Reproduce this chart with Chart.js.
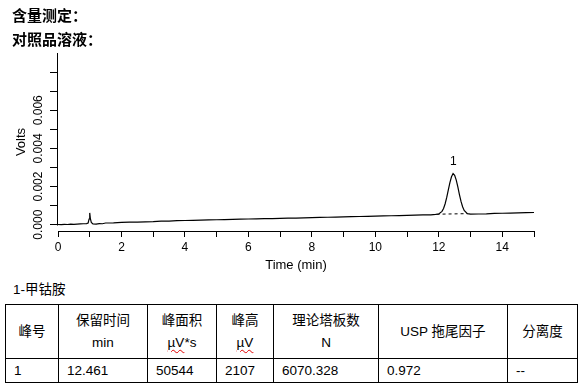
<!DOCTYPE html>
<html>
<head>
<meta charset="utf-8">
<script src="https://cdn.jsdelivr.net/npm/chart.js@4"></script>
<style>
  html, body { margin:0; padding:0; background:#fff; }
  body { width:585px; height:387px; position:relative; overflow:hidden; font-family:"Liberation Sans","Noto Sans CJK SC",sans-serif; color:#000; }
  .ttl { position:absolute; left:12px; font-weight:bold; font-size:15px; line-height:18px; font-family:"Noto Sans CJK SC","Liberation Sans",sans-serif; z-index:2; }
  #wrap { position:absolute; left:0; top:0; width:585px; height:280px; }
  #cap { position:absolute; left:13px; top:281px; font-size:13.5px; line-height:18px; }
  table { position:absolute; left:5px; top:304px; border-collapse:collapse; table-layout:fixed; width:573px; font-size:13.5px; }
  td { border:1px solid #000; padding:0; overflow:hidden; white-space:nowrap; }
  tr.h td { height:53px; text-align:center; vertical-align:middle; line-height:22px; }
  tr.d td { height:23px; text-align:left; padding-left:8px; vertical-align:middle; }
  .sp { text-decoration: underline wavy #e00000; text-decoration-thickness:1px; text-underline-offset:2px; }
</style>
</head>
<body>
<div class="ttl" style="top:6px">含量测定：</div>
<div class="ttl" style="top:30px">对照品溶液：</div>
<div id="wrap"><canvas id="c"></canvas></div>
<div id="cap"></div>
<table id="tbl"></table>
<script>
// ---- data ----
const times = [0.00,0.10,0.20,0.30,0.40,0.50,0.60,0.70,0.80,0.90,0.95,0.98,1.00,1.02,1.05,1.10,1.20,1.30,1.40,1.50,1.75,2.00,2.25,2.50,2.75,3.00,3.25,3.50,3.75,4.00,4.25,4.50,4.75,5.00,5.25,5.50,5.75,6.00,6.25,6.50,6.75,7.00,7.25,7.50,7.75,8.00,8.25,8.50,8.75,9.00,9.25,9.50,9.75,10.00,10.25,10.50,10.75,11.00,11.25,11.50,11.75,11.90,12.00,12.10,12.15,12.20,12.25,12.30,12.35,12.40,12.45,12.50,12.55,12.60,12.65,12.70,12.75,12.80,12.90,13.00,13.25,13.50,13.75,14.00,14.25,14.50,14.75,15.00];
const volts = [0.00001,0.00000,0.00002,0.00001,0.00003,0.00002,0.00003,0.00004,0.00005,0.00006,0.00009,0.00030,0.00062,0.00032,0.00012,0.00004,0.00003,0.00006,0.00005,0.00009,0.00010,0.00012,0.00014,0.00014,0.00015,0.00016,0.00019,0.00019,0.00021,0.00022,0.00023,0.00024,0.00025,0.00026,0.00027,0.00028,0.00029,0.00030,0.00031,0.00032,0.00032,0.00033,0.00034,0.00035,0.00036,0.00037,0.00038,0.00039,0.00040,0.00041,0.00042,0.00043,0.00044,0.00045,0.00046,0.00047,0.00048,0.00049,0.00050,0.00051,0.00052,0.00054,0.00056,0.00070,0.00085,0.00110,0.00143,0.00182,0.00221,0.00251,0.00268,0.00259,0.00234,0.00198,0.00158,0.00122,0.00094,0.00075,0.00058,0.00055,0.00056,0.00057,0.00059,0.00060,0.00061,0.00062,0.00063,0.00064];
const baseTimes = [11.93, 12.90];
const baseVolts = [0.00055, 0.00058];
const peakTimes = [12.461];
const peakVolts = [0.00268];
const peakLabels = ['1'];
const xTickValues = [0,1,2,3,4,5,6,7,8,9,10,11,12,13,14,15];
const xTickLabels = ['0','','2','','4','','6','','8','','10','','12','','14',''];
const yTickValues = [0,0.001,0.002,0.003,0.004,0.005,0.006,0.007,0.008];
const yTickLabels = ['0.000','','0.002','','0.004','','0.006','',''];
const yAxisTop = 0.009;
const caption = '1-甲钴胺';
const headTop = ['峰号','保留时间','峰面积','峰高','理论塔板数','USP 拖尾因子','分离度'];
const headUnit = ['','min','µV*s','µV','N','',''];
const rowVals = ['1','12.461','50544','2107','6070.328','0.972','--'];
const colWidths = [53,89,69,57,105,129,70];

// ---- table ----
document.getElementById('cap').textContent = caption;
const tbl = document.getElementById('tbl');
let html = '<colgroup>' + colWidths.map(w => '<col style="width:' + w + 'px">').join('') + '</colgroup>';
html += '<tr class="h">' + headTop.map((h, i) => {
  const u = headUnit[i] ? '<br>' + headUnit[i].replace('µV', '<span class="sp">µV</span>') : '';
  return '<td>' + h + u + '</td>';
}).join('') + '</tr>';
html += '<tr class="d">' + rowVals.map(v => '<td>' + v + '</td>').join('') + '</tr>';
tbl.innerHTML = html;

// ---- chart ----
const overlay = {
  id: 'overlay',
  afterDraw(chart) {
    const {ctx, scales: {x, y}, chartArea} = chart;
    ctx.save();
    ctx.strokeStyle = '#000';
    ctx.lineWidth = 1;
    const px = Math.round(chartArea.left) - 0.5;
    ctx.beginPath();
    ctx.moveTo(px, Math.round(y.getPixelForValue(yAxisTop)));
    ctx.lineTo(px, Math.round(y.getPixelForValue(0)) + 0.5);
    ctx.stroke();
    ctx.fillStyle = '#000';
    ctx.font = '12px "Liberation Sans", Arial, sans-serif';
    ctx.textAlign = 'center';
    ctx.textBaseline = 'middle';
    peakTimes.forEach((t, i) => {
      ctx.fillText(peakLabels[i], x.getPixelForValue(t), y.getPixelForValue(peakVolts[i]) - 12);
    });
    ctx.restore();
  }
};

new Chart(document.getElementById('c'), {
  type: 'line',
  data: {
    datasets: [
      { data: times.map((t, i) => ({x: t, y: volts[i]})), borderColor: '#000', borderWidth: 1.2, pointRadius: 0, tension: 0, fill: false },
      { data: baseTimes.map((t, i) => ({x: t, y: baseVolts[i]})), borderColor: '#000', borderWidth: 1, borderDash: [3, 3], pointRadius: 0, fill: false }
    ]
  },
  options: {
    responsive: true,
    maintainAspectRatio: false,
    animation: false,
    events: [],
    layout: { padding: { left: 0, right: 51, top: 53, bottom: 0 } },
    plugins: { legend: { display: false }, tooltip: { enabled: false } },
    scales: {
      x: {
        type: 'linear', min: 0, max: 15,
        afterBuildTicks: s => { s.ticks = xTickValues.map(v => ({value: v})); },
        afterFit: s => { s.height = 49; },
        ticks: { callback: (v, i) => xTickLabels[i], autoSkip: false, maxRotation: 0, padding: 3, color: '#000', font: { family: '"Liberation Sans", Arial', size: 12 } },
        grid: { drawOnChartArea: false, drawTicks: true, tickLength: 6, color: '#000' },
        border: { display: true, color: '#000', width: 1 },
        title: { display: true, text: 'Time (min)', color: '#000', font: { family: '"Liberation Sans", Arial', size: 13 }, padding: { top: 0, bottom: 7 } }
      },
      y: {
        type: 'linear', min: -0.00033, max: yAxisTop,
        afterBuildTicks: s => { s.ticks = yTickValues.map(v => ({value: v})); },
        afterFit: s => { s.width = 58; },
        ticks: { callback: (v, i) => yTickLabels[i], autoSkip: false, minRotation: 90, maxRotation: 90, crossAlign: 'center', padding: -4, color: '#000', font: { family: '"Liberation Sans Narrow", "Liberation Sans", Arial', size: 12 } },
        grid: { drawOnChartArea: false, drawTicks: true, tickLength: 8, color: '#000' },
        border: { display: false },
        title: { display: true, text: 'Volts', color: '#000', font: { family: '"Liberation Sans", Arial', size: 13 }, padding: { top: 14, bottom: 0 } }
      }
    }
  },
  plugins: [overlay]
});
</script>
</body>
</html>
